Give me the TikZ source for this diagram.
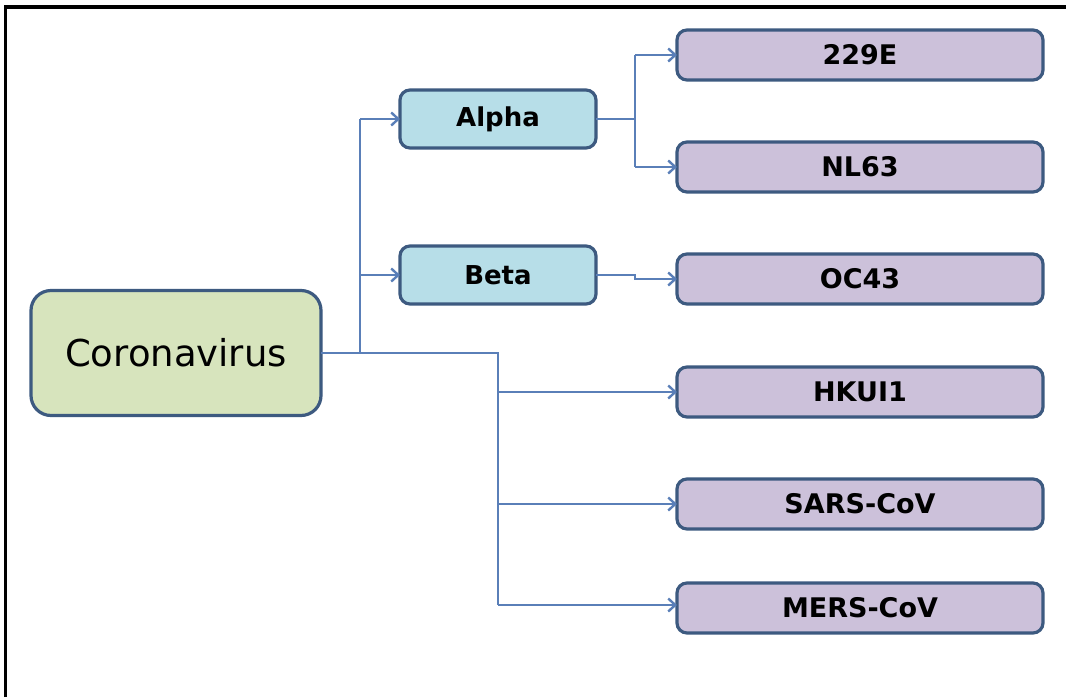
\documentclass[tikz,border=0pt]{standalone}
\usepackage{fontspec}
\setmainfont{DejaVu Sans}
\usetikzlibrary{arrows.meta}
\definecolor{edge}{HTML}{3D5A80}
\definecolor{conn}{HTML}{5A7FB8}
\definecolor{rootfill}{HTML}{D7E4BD}
\definecolor{midfill}{HTML}{B7DEE8}
\definecolor{leaffill}{HTML}{CCC1DA}
\tikzset{
  box/.style={draw=edge, line width=3.2pt, rounded corners=10pt, inner sep=0pt, outer sep=0pt, text=black},
  rootbox/.style={box, fill=rootfill, rounded corners=20pt, minimum width=290pt, minimum height=125pt, font=\fontsize{37}{40}\selectfont},
  midbox/.style={box, fill=midfill, minimum width=196pt, minimum height=58pt, font=\bfseries\fontsize{26}{28}\selectfont},
  leafbox/.style={box, fill=leaffill, minimum width=366pt, minimum height=50pt, font=\bfseries\fontsize{27}{28}\selectfont},
  conn/.style={draw=conn, line width=2.6pt},
  arr/.style={conn, -{Straight Barb[length=7pt,width=13pt,line width=2.4pt]}},
}
\begin{document}
\begin{tikzpicture}[x=1pt,y=-1pt]
\useasboundingbox (0,0) rectangle (1066,697);
\fill[white] (0,0) rectangle (1066,697);
\draw[line width=3.5pt, black] (5.5,697) -- (5.5,7) -- (1066,7);

\node[rootbox] (root) at (176,353) {Coronavirus};
\node[midbox] (alpha) at (498,119) {Alpha};
\node[midbox] (beta) at (498,275) {Beta};
\node[leafbox] (e229) at (860,55) {229E};
\node[leafbox] (nl63) at (860,167) {NL63};
\node[leafbox] (oc43) at (860,279) {OC43};
\node[leafbox] (hku) at (860,392) {HKUI1};
\node[leafbox] (sars) at (860,504) {SARS-CoV};
\node[leafbox] (mers) at (860,608) {MERS-CoV};

\coordinate (j1) at (360,353);
\coordinate (j2) at (498,353);
\coordinate (j3) at (635,119);

% root branches
\draw[conn] (root.east) -- (j2) -- (498,605);
\draw[conn] (j1) -- (360,119);
\draw[arr] (360,119) -- (alpha.west);
\draw[arr] (360,275) -- (beta.west);
\draw[arr] (498,392) -- (hku.west);
\draw[arr] (498,504) -- (sars.west);
\draw[arr] (498,605) -- (mers.west |- 0,605);

% alpha branches
\draw[conn] (alpha.east) -- (j3);
\draw[conn] (635,55) -- (635,167);
\draw[arr] (635,55) -- (e229.west);
\draw[arr] (635,167) -- (nl63.west);

% beta branch
\draw[arr] (beta.east) -- (635,275) -- (635,279) -- (oc43.west);
\end{tikzpicture}
\end{document}
